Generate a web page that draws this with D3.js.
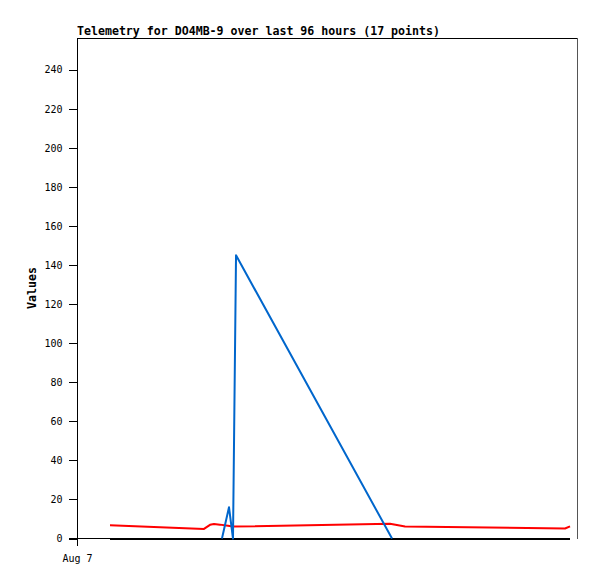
<!DOCTYPE html>
<html>
<head>
<meta charset="utf-8">
<script src="https://cdn.jsdelivr.net/npm/d3@7"></script>
<style>
  html, body { margin: 0; padding: 0; background: #fff; }
  svg { display: block; }
</style>
</head>
<body>
<svg id="chart" width="597" height="579"></svg>
<script>
// ---- data ----
const titleText = "Telemetry for DO4MB-9 over last 96 hours (17 points)";
const yLabelText = "Values";
const xDomain = ["2024-08-07T00:00", "2024-08-11T00:00"];
const xTickTimes = ["2024-08-07T00:00"];
const xTickLabels = ["Aug 7"];
const yTicks = [0, 20, 40, 60, 80, 100, 120, 140, 160, 180, 200, 220, 240];
const yMax = 256;

const blackTimes = ["2024-08-07T06:20", "2024-08-10T22:40"];
const blackValues = [0, 0];

const redTimes = ["2024-08-07T06:20", "2024-08-08T00:23", "2024-08-08T01:32", "2024-08-08T02:18",
                  "2024-08-08T03:27", "2024-08-08T04:59", "2024-08-08T05:57", "2024-08-09T12:06",
                  "2024-08-09T14:59", "2024-08-10T21:42", "2024-08-10T22:40"];
const redValues = [6.8, 4.9, 7.0, 7.4, 7.1, 6.5, 6.1, 7.5, 6.1, 5.1, 6.2];

const blueTimes = ["2024-08-08T03:50", "2024-08-08T05:11", "2024-08-08T05:57", "2024-08-08T06:32",
                   "2024-08-09T12:29"];
const blueValues = [0, 16, 0, 145, 0];

// ---- layout ----
const plot = { left: 77, right: 577, top: 38, bottom: 538 };
const parse = d3.timeParse("%Y-%m-%dT%H:%M");
const svg = d3.select("#chart");

const x = d3.scaleTime().domain(xDomain.map(parse)).range([plot.left, plot.right]);
const y = d3.scaleLinear().domain([0, yMax]).range([plot.bottom + 0.5, plot.top + 0.5]);

// frame: top and right
svg.append("line").attr("x1", plot.left).attr("x2", plot.right + 0.5)
  .attr("y1", plot.top + 0.5).attr("y2", plot.top + 0.5)
  .attr("stroke", "#000").attr("shape-rendering", "crispEdges");
svg.append("line").attr("x1", plot.right + 0.5).attr("x2", plot.right + 0.5)
  .attr("y1", plot.top).attr("y2", plot.bottom + 1)
  .attr("stroke", "#555").attr("shape-rendering", "crispEdges");

// y axis
const yAxis = d3.axisLeft(y).tickValues(yTicks).tickSize(9).tickPadding(6).tickSizeOuter(0);
const gy = svg.append("g").attr("transform", `translate(${plot.left + 0.5},0)`).call(yAxis);
gy.select(".domain").remove();
gy.append("line").attr("x1", 0).attr("x2", 0).attr("y1", plot.top).attr("y2", plot.bottom + 7)
  .attr("stroke", "#000");
gy.selectAll(".tick line").attr("stroke", "#000");
gy.selectAll(".tick text").attr("fill", "#000")
  .style("font-family", "'DejaVu Sans Mono', monospace").style("font-size", "10px");
gy.selectAll("line").attr("shape-rendering", "crispEdges");

// x axis
const xAxis = d3.axisBottom(x).tickValues(xTickTimes.map(parse))
  .tickFormat((d, i) => xTickLabels[i]).tickSize(7).tickPadding(9).tickSizeOuter(0);
const gx = svg.append("g").attr("transform", `translate(0,${plot.bottom + 0.5})`).call(xAxis);
gx.select(".domain").attr("stroke", "#000").attr("d", `M${plot.left - 8},0H${plot.right - 7}`);
gx.selectAll(".tick line").attr("stroke", "#000");
gx.selectAll(".tick text").attr("fill", "#000")
  .style("font-family", "'DejaVu Sans Mono', monospace").style("font-size", "10px");
gx.selectAll("line,path").attr("shape-rendering", "crispEdges");

// lines
const line = d3.line().x(d => x(d[0])).y(d => y(d[1]));
function drawSeries(times, values, color, crisp) {
  svg.append("path")
    .datum(times.map((t, i) => [parse(t), values[i]]))
    .attr("d", line)
    .attr("fill", "none")
    .attr("stroke", color)
    .attr("stroke-width", 2)
    .attr("stroke-linejoin", "round")
    .attr("shape-rendering", crisp ? "crispEdges" : "auto");
}
drawSeries(blackTimes, blackValues, "#000000", true);
drawSeries(redTimes, redValues, "#ff0000", false);
drawSeries(blueTimes, blueValues, "#0066cc", false);

// title
svg.append("text").attr("x", plot.left).attr("y", 35)
  .style("font-family", "'DejaVu Sans Mono', monospace").style("font-size", "11.6px")
  .style("font-weight", "bold").attr("fill", "#000").text(titleText);

// y label
svg.append("text").attr("transform", `translate(36,${(plot.top + plot.bottom) / 2}) rotate(-90)`)
  .attr("text-anchor", "middle")
  .style("font-family", "'DejaVu Sans Mono', monospace").style("font-size", "11.6px")
  .style("font-weight", "bold").attr("fill", "#000").text(yLabelText);
</script>
</body>
</html>
